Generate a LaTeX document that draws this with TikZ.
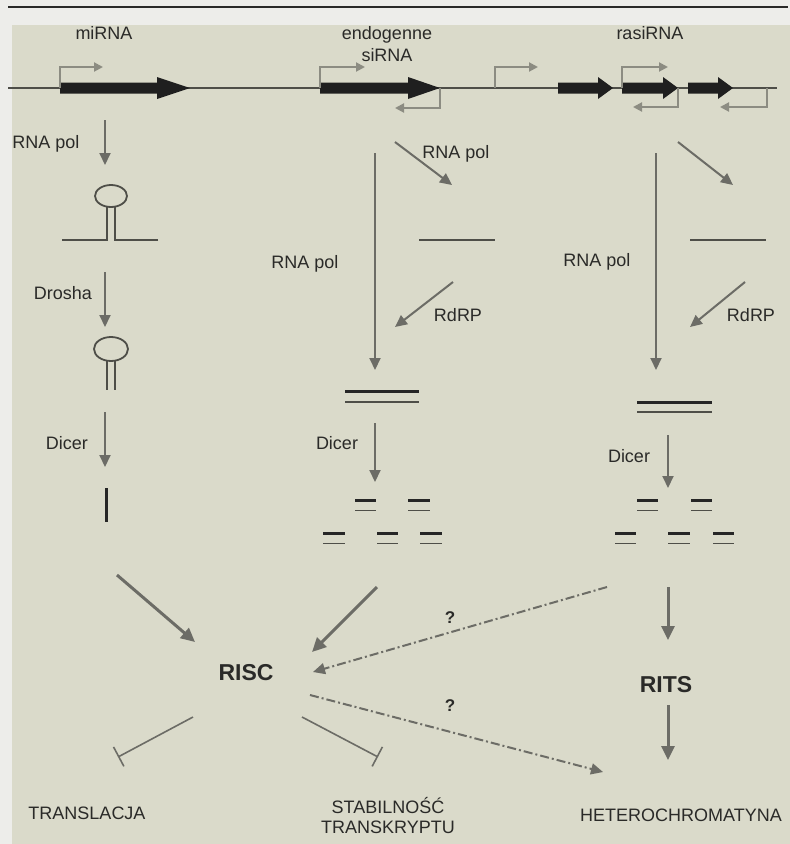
\documentclass[tikz,border=0pt]{standalone}
\usepackage{fontspec}
\setmainfont{Liberation Sans}
\usetikzlibrary{arrows.meta}

\definecolor{paper}{RGB}{237,237,234}
\definecolor{panel}{RGB}{218,218,202}
\definecolor{ink}{RGB}{42,42,40}
\definecolor{arrowgray}{RGB}{108,108,102}
\definecolor{promgray}{RGB}{140,140,130}
\definecolor{strandgray}{RGB}{78,78,72}

% thick gene arrow on the DNA line: start, head start, tip
\newcommand{\genearrow}[3]{%
  \fill[black!88] (#1,82.5) -- (#2,82.5) -- (#2,77) -- (#3,88)
    -- (#2,99) -- (#2,93.5) -- (#1,93.5) -- cycle;}
% promoter: x on the line, y of the bend, x of the tip
\newcommand{\promoter}[3]{\draw[prom] (#1,88) -- (#1,#2) -- (#3,#2);}
% short siRNA duplex: left x, right x, y of the upper strand
\newcommand{\duplex}[3]{%
  \draw[dsup] (#1,#3) -- (#2,#3);
  \draw[dslow] (#1,#3+10.5) -- (#2,#3+10.5);}

\begin{document}
\begin{tikzpicture}[x=1pt,y=-1pt,
    lbl/.style={text=ink,font=\fontsize{18}{22}\selectfont,inner sep=0pt,anchor=base},
    bigl/.style={text=ink,font=\fontsize{23}{26}\selectfont\bfseries,inner sep=0pt,anchor=base},
    qmark/.style={text=ink,font=\fontsize{17}{20}\selectfont\bfseries,inner sep=0pt,anchor=base},
    arr/.style={arrowgray,line width=2pt,-{Triangle[length=12pt,width=11pt]}},
    fatarr/.style={arrowgray,line width=3pt,-{Triangle[length=14pt,width=13pt]}},
    qarr/.style={arrowgray,line width=2pt,dash pattern=on 9pt off 3pt on 2pt off 3pt,
                 -{Triangle[length=12pt,width=11pt]}},
    block/.style={arrowgray,line width=1.6pt,-{Bar[width=22pt,line width=1.6pt]}},
    prom/.style={promgray,line width=2pt,-{Triangle[length=9pt,width=9pt]}},
    ss/.style={strandgray,line width=1.8pt},
    dsup/.style={black!85,line width=3pt},
    dslow/.style={strandgray,line width=1.8pt}]

  % ---- page and panel ------------------------------
  \fill[paper] (0,0) rectangle (790,844);
  \fill[panel] (12,25) rectangle (790,844);
  \draw[ink,line width=1.2pt] (8,7) -- (788,7);

  % ---- DNA with genes and promoters ----------------
  \draw[strandgray,line width=1.6pt] (8,88) -- (777,88);
  \genearrow{60}{157}{190}
  \genearrow{320}{408}{440}
  \genearrow{558}{598}{613}
  \genearrow{622}{663}{678}
  \genearrow{688}{718}{733}
  \promoter{60}{67}{103}
  \promoter{320}{67}{365}
  \promoter{440}{108}{395}
  \promoter{495}{67}{538}
  \promoter{622}{67}{668}
  \promoter{678}{107}{633}
  \promoter{767}{107}{720}

  \node[lbl] (mirna) at (104,39.5) {miRNA};
  \node[lbl,align=center] (endo) at (387,61.5) {endogenne\\siRNA};
  \node[lbl] (rasi) at (650,39.5) {rasiRNA};

  % ---- miRNA branch --------------------------------
  \coordinate (mi-pol-a) at (105,120);
  \coordinate (mi-pol-b) at (105,165);
  \coordinate (mi-dro-a) at (105,272);
  \coordinate (mi-dro-b) at (105,327);
  \coordinate (mi-dic-a) at (105,412);
  \coordinate (mi-dic-b) at (105,467);
  \coordinate (mi-out)   at (117,575);
  \coordinate (mi-in)    at (195,642);

  \draw[arr] (mi-pol-a) -- (mi-pol-b);
  \node[lbl] (mi-pol) at (46,148.5) {RNA pol};

  % primary transcript hairpin
  \draw[ss] (111,196) ellipse (16 and 11);
  \draw[ss] (62,240) -- (107,240) -- (107,206);
  \draw[ss] (158,240) -- (115,240) -- (115,206);

  \draw[arr] (mi-dro-a) -- (mi-dro-b);
  \node[lbl] (drosha) at (63,299.5) {Drosha};

  % pre-miRNA
  \draw[ss] (111,349) ellipse (17 and 12);
  \draw[ss] (107,360) -- (107,390);
  \draw[ss] (115,360) -- (115,390);

  \draw[arr] (mi-dic-a) -- (mi-dic-b);
  \node[lbl] (mi-dicer) at (67,449.5) {Dicer};

  \draw[black!85,line width=3pt] (106,488) -- (106,522);  % mature miRNA

  % ---- endogenous siRNA branch ---------------------
  \coordinate (en-pol-a)  at (375,153);
  \coordinate (en-pol-b)  at (375,370);
  \coordinate (en-rev-a)  at (395,142);
  \coordinate (en-rev-b)  at (452,185);
  \coordinate (en-rdrp-a) at (453,282);
  \coordinate (en-rdrp-b) at (395,327);
  \coordinate (en-dic-a)  at (375,423);
  \coordinate (en-dic-b)  at (375,482);
  \coordinate (en-out)    at (377,587);
  \coordinate (en-in)     at (312,652);

  \draw[arr] (en-pol-a) -- (en-pol-b);
  \node[lbl] (en-pol) at (305,268.5) {RNA pol};
  \draw[arr] (en-rev-a) -- (en-rev-b);
  \node[lbl] (en-revpol) at (456,158.5) {RNA pol};
  \draw[ss] (419,240) -- (495,240);
  \draw[arr] (en-rdrp-a) -- (en-rdrp-b);
  \node[lbl] (en-rdrp) at (458,321.5) {RdRP};

  \draw[dsup] (345,391) -- (419,391);
  \draw[dslow] (345,402) -- (419,402);

  \draw[arr] (en-dic-a) -- (en-dic-b);
  \node[lbl] (en-dicer) at (337,449.5) {Dicer};

  \duplex{355}{376}{500}
  \duplex{408}{430}{500}
  \duplex{323}{345}{533}
  \duplex{377}{398}{533}
  \duplex{420}{442}{533}

  % ---- rasiRNA branch ------------------------------
  \coordinate (ra-pol-a)  at (656,153);
  \coordinate (ra-pol-b)  at (656,370);
  \coordinate (ra-rev-a)  at (678,142);
  \coordinate (ra-rev-b)  at (733,185);
  \coordinate (ra-rdrp-a) at (745,282);
  \coordinate (ra-rdrp-b) at (690,327);
  \coordinate (ra-dic-a)  at (668,435);
  \coordinate (ra-dic-b)  at (668,488);
  \coordinate (ra-out)    at (607,587);
  \coordinate (ra-down)   at (668,587);

  \draw[arr] (ra-pol-a) -- (ra-pol-b);
  \node[lbl] (ra-pol) at (597,266.5) {RNA pol};
  \draw[arr] (ra-rev-a) -- (ra-rev-b);
  \draw[ss] (690,240) -- (766,240);
  \draw[arr] (ra-rdrp-a) -- (ra-rdrp-b);
  \node[lbl] (ra-rdrp) at (751,321.5) {RdRP};

  \draw[dsup] (637,402) -- (712,402);
  \draw[dslow] (637,412) -- (712,412);

  \draw[arr] (ra-dic-a) -- (ra-dic-b);
  \node[lbl] (ra-dicer) at (629,462.5) {Dicer};

  \duplex{637}{658}{500}
  \duplex{691}{712}{500}
  \duplex{615}{636}{533}
  \duplex{668}{690}{533}
  \duplex{713}{734}{533}

  % ---- effector complexes --------------------------
  \node[bigl] (risc) at (246,680) {RISC};
  \node[bigl] (rits) at (666,692) {RITS};

  \coordinate (risc-q-in)  at (313,672);
  \coordinate (risc-q-out) at (310,695);
  \coordinate (het-in)     at (603,772);
  \coordinate (risc-l)     at (193,717);
  \coordinate (risc-r)     at (302,717);
  \coordinate (tr-stop)    at (118,757);
  \coordinate (st-stop)    at (378,757);
  \coordinate (rits-a)     at (668,640);
  \coordinate (rits-b)     at (668,705);
  \coordinate (het-top)    at (668,760);

  \draw[fatarr] (mi-out) -- (mi-in);
  \draw[fatarr] (en-out) -- (en-in);
  \draw[qarr] (ra-out) -- (risc-q-in);
  \node[qmark] (q1) at (450,623) {?};
  \draw[qarr] (risc-q-out) -- (het-in);
  \node[qmark] (q2) at (450,711) {?};

  \draw[fatarr] (ra-down) -- (rits-a);
  \draw[fatarr] (rits-b) -- (het-top);

  \draw[block] (risc-l) -- (tr-stop);
  \draw[block] (risc-r) -- (st-stop);

  % ---- targets -------------------------------------
  \node[lbl] (transl) at (87,819.5) {TRANSLACJA};
  \node[lbl,align=center,font=\fontsize{18}{20}\selectfont] (stab) at (388,833.5)
    {STABILNOŚĆ\\TRANSKRYPTU};
  \node[lbl] (hetero) at (681,821.5) {HETEROCHROMATYNA};
\end{tikzpicture}
\end{document}
